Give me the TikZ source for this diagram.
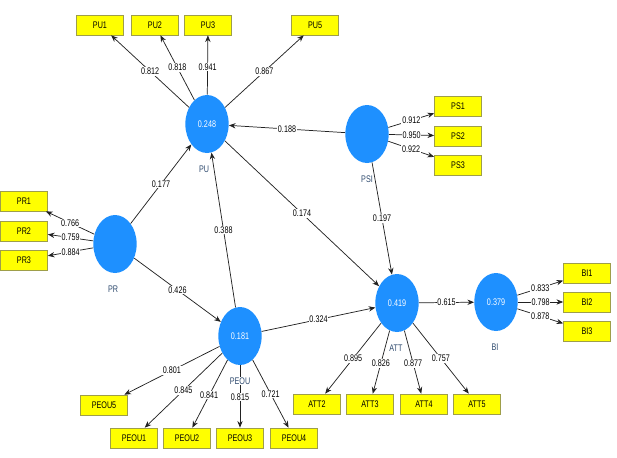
\documentclass[tikz,border=0pt]{standalone}
\usepackage{fontspec}
\setmainfont{Liberation Sans}[FakeStretch=0.75]
\usetikzlibrary{shapes.geometric,arrows.meta}
\definecolor{plsblue}{HTML}{1E90FF}
\definecolor{indfill}{HTML}{FFFF00}
\definecolor{indborder}{HTML}{9E9E4A}
\definecolor{lvtext}{HTML}{2E4A6E}
\definecolor{edgecol}{HTML}{222222}
\begin{document}
\begin{tikzpicture}[x=0.75pt,y=-0.75pt,
 every node/.style={font=\fontsize{7.2}{8}\selectfont},
 lat/.style={ellipse, fill=plsblue, minimum width=32.5pt, minimum height=43.5pt, inner sep=0pt, text=white},
 indic/.style={rectangle, fill=indfill, draw=indborder, line width=0.5pt, minimum width=35.25pt, minimum height=15pt, inner sep=0pt},
 arr/.style={draw=edgecol, line width=0.55pt, -{Stealth[length=5pt,width=4pt]}},
 lbl/.style={fill=white, inner sep=0.6pt, text=black, pos=0.5},
 lvname/.style={text=lvtext, inner sep=0.6pt}]
\useasboundingbox (0,0) rectangle (617,457);
% latent variables
\node[lat] (PU) at (207,124) {0.248};
\node[lat] (PSI) at (367,134) {};
\node[lat] (PR) at (115,244) {};
\node[lat] (PEOU) at (240,336) {0.181};
\node[lat] (ATT) at (397,303) {0.419};
\node[lat] (BI) at (496,302) {0.379};
% indicators
\node[indic] (PU1) at (100,25) {PU1};
\node[indic] (PU2) at (155,25) {PU2};
\node[indic] (PU3) at (208,25) {PU3};
\node[indic] (PU5) at (315,25) {PU5};
\node[indic] (PS1) at (458,106) {PS1};
\node[indic] (PS2) at (458,136) {PS2};
\node[indic] (PS3) at (458,165) {PS3};
\node[indic] (PR1) at (24,201) {PR1};
\node[indic] (PR2) at (24,231) {PR2};
\node[indic] (PR3) at (24,260) {PR3};
\node[indic] (PEOU5) at (104,405) {PEOU5};
\node[indic] (PEOU1) at (134,438) {PEOU1};
\node[indic] (PEOU2) at (187,438) {PEOU2};
\node[indic] (PEOU3) at (240,438) {PEOU3};
\node[indic] (PEOU4) at (294,438) {PEOU4};
\node[indic] (ATT2) at (317,404) {ATT2};
\node[indic] (ATT3) at (370,404) {ATT3};
\node[indic] (ATT4) at (424,404) {ATT4};
\node[indic] (ATT5) at (477,404) {ATT5};
\node[indic] (BI1) at (587,273) {BI1};
\node[indic] (BI2) at (587,302) {BI2};
\node[indic] (BI3) at (587,331) {BI3};
% outer model
\draw[arr] (PU) -- node[lbl]{0.812} (PU1);
\draw[arr] (PU) -- node[lbl]{0.818} (PU2);
\draw[arr] (PU) -- node[lbl, pos=0.47]{0.941} (PU3);
\draw[arr] (PU) -- node[lbl]{0.867} (PU5);
\draw[arr] (PSI) -- node[lbl]{0.912} (PS1);
\draw[arr] (PSI) -- node[lbl]{0.950} (PS2);
\draw[arr] (PSI) -- node[lbl]{0.922} (PS3);
\draw[arr] (PR) -- node[lbl]{0.766} (PR1);
\draw[arr] (PR) -- node[lbl]{0.759} (PR2);
\draw[arr] (PR) -- node[lbl]{0.884} (PR3);
\draw[arr] (PEOU) -- node[lbl]{0.801} (PEOU5);
\draw[arr] (PEOU) -- node[lbl]{0.845} (PEOU1);
\draw[arr] (PEOU) -- node[lbl, pos=0.52]{0.841} (PEOU2);
\draw[arr] (PEOU) -- node[lbl, pos=0.51]{0.815} (PEOU3);
\draw[arr] (PEOU) -- node[lbl]{0.721} (PEOU4);
\draw[arr] (ATT) -- node[lbl]{0.895} (ATT2);
\draw[arr] (ATT) -- node[lbl, pos=0.52]{0.826} (ATT3);
\draw[arr] (ATT) -- node[lbl, pos=0.52]{0.877} (ATT4);
\draw[arr] (ATT) -- node[lbl]{0.757} (ATT5);
\draw[arr] (BI) -- node[lbl]{0.833} (BI1);
\draw[arr] (BI) -- node[lbl]{0.798} (BI2);
\draw[arr] (BI) -- node[lbl]{0.878} (BI3);
% inner model
\draw[arr] (PSI) -- node[lbl]{0.188} (PU);
\draw[arr] (PR) -- node[lbl]{0.177} (PU);
\draw[arr] (PEOU) -- node[lbl]{0.388} (PU);
\draw[arr] (PR) -- node[lbl]{0.426} (PEOU);
\draw[arr] (PU) -- node[lbl]{0.174} (ATT);
\draw[arr] (PSI) -- node[lbl]{0.197} (ATT);
\draw[arr] (PEOU) -- node[lbl]{0.324} (ATT);
\draw[arr] (ATT) -- node[lbl]{0.615} (BI);
% latent names
\node[lvname] (PUn) at (204,169) {PU};
\node[lvname] (PSIn) at (367,179) {PSI};
\node[lvname] (PRn) at (113,289) {PR};
\node[lvname, fill=white] (PEOUn) at (240,381) {PEOU};
\node[lvname] (ATTn) at (396,348) {ATT};
\node[lvname] (BIn) at (495,347) {BI};
\end{tikzpicture}
\end{document}
